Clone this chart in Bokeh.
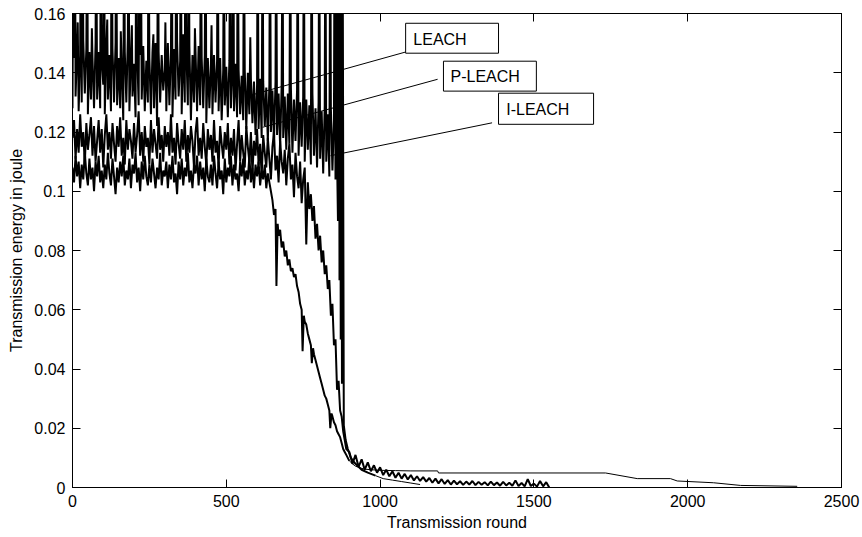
from bokeh.plotting import figure
from bokeh.models import FixedTicker, LinearAxis
from bokeh.core.properties import value
from bokeh.embed import file_html
from bokeh.resources import INLINE

# ---------------- data ----------------
x_ticks = [0, 500, 1000, 1500, 2000, 2500]
x_tick_labels = ["0", "500", "1000", "1500", "2000", "2500"]
y_ticks = [0.0, 0.02, 0.04, 0.06, 0.08, 0.10, 0.12, 0.14, 0.16]
y_tick_labels = ["0", "0.02", "0.04", "0.06", "0.08", "0.1", "0.12", "0.14", "0.16"]

# LEACH: base noise at rounds 0..860 every 5 rounds
leach_noise = [
    0.128, 0.145, 0.132, 0.149, 0.127, 0.146, 0.130, 0.151, 0.133, 0.148,
    0.126, 0.147, 0.131, 0.145, 0.128, 0.150, 0.131, 0.147, 0.128, 0.144,
    0.136, 0.126, 0.149, 0.131, 0.146, 0.127, 0.148, 0.130, 0.150, 0.129,
    0.145, 0.128, 0.142, 0.124, 0.147, 0.130, 0.152, 0.127, 0.146, 0.132,
    0.143, 0.125, 0.148, 0.129, 0.146, 0.131, 0.149, 0.127, 0.144, 0.130,
    0.145, 0.126, 0.147, 0.128, 0.150, 0.122, 0.147, 0.130, 0.146, 0.134,
    0.141, 0.127, 0.150, 0.129, 0.147, 0.125, 0.148, 0.131, 0.151, 0.132,
    0.144, 0.126, 0.153, 0.130, 0.148, 0.129, 0.149, 0.124, 0.146, 0.130,
    0.147, 0.127, 0.149, 0.129, 0.145, 0.128, 0.146, 0.123, 0.145, 0.128,
    0.143, 0.126, 0.146, 0.130, 0.144, 0.127, 0.145, 0.124, 0.141, 0.129,
    0.142, 0.125, 0.144, 0.128, 0.140, 0.127, 0.143, 0.125, 0.141, 0.126,
    0.139, 0.124, 0.141, 0.121, 0.140, 0.126, 0.138, 0.123, 0.137, 0.119,
    0.136, 0.121, 0.138, 0.118, 0.137, 0.122, 0.135, 0.117, 0.136, 0.120,
    0.134, 0.117, 0.137, 0.119, 0.133, 0.115, 0.136, 0.118, 0.132, 0.114,
    0.133, 0.116, 0.135, 0.113, 0.131, 0.117, 0.134, 0.112, 0.130, 0.115,
    0.132, 0.110, 0.131, 0.114, 0.129, 0.109, 0.133, 0.112, 0.128, 0.108,
    0.130, 0.111, 0.127, 0.106, 0.129, 0.110, 0.126, 0.105, 0.128, 0.107,
    0.124, 0.104, 0.112,
]
# LEACH: single-round spikes (many leave the top of the axes)
leach_spike_rounds = [3, 8, 17, 27, 33, 48, 63, 77, 92, 103, 113, 127, 142, 157, 168,
                      182, 193, 207, 218, 222, 247, 263, 278, 302, 323, 337, 352, 367,
                      378, 398, 417, 433, 452, 472, 492, 513, 523, 537, 557, 578, 602,
                      618, 642, 662, 683, 708, 732, 752, 777, 802, 822, 838, 852, 857]
leach_spike_energy = [0.2, 0.2, 0.157, 0.2, 0.2, 0.2, 0.155, 0.2, 0.2, 0.2,
                      0.158, 0.2, 0.2, 0.154, 0.2, 0.2, 0.156, 0.2, 0.2, 0.2,
                      0.2, 0.153, 0.2, 0.157, 0.2, 0.2, 0.2, 0.2, 0.2, 0.155,
                      0.2, 0.2, 0.156, 0.2, 0.2, 0.2, 0.2, 0.2, 0.2, 0.152,
                      0.2, 0.2, 0.2, 0.2, 0.2, 0.2, 0.2, 0.2, 0.2, 0.2,
                      0.2, 0.2, 0.2, 0.2]
leach_tail_rounds = [863, 866, 868, 870, 872, 874, 876, 878, 882, 888, 895, 905,
                     920, 940, 960, 985, 1010, 1040, 1070, 1100, 1130]
leach_tail = [0.09, 0.2, 0.07, 0.2, 0.05, 0.2, 0.035, 0.2, 0.021, 0.016, 0.013, 0.010,
              0.008, 0.006, 0.005, 0.004, 0.003, 0.0025, 0.002, 0.0015, 0.001]

# P-LEACH: rounds 0..775 every 5 rounds
pleach_noise = [
    0.118, 0.124, 0.111, 0.121, 0.113, 0.126, 0.115, 0.120, 0.109, 0.123,
    0.114, 0.119, 0.125, 0.112, 0.122, 0.110, 0.117, 0.124, 0.113, 0.121,
    0.108, 0.119, 0.126, 0.114, 0.120, 0.111, 0.123, 0.116, 0.110, 0.122,
    0.115, 0.125, 0.112, 0.118, 0.109, 0.124, 0.114, 0.121, 0.117, 0.111,
    0.123, 0.113, 0.119, 0.127, 0.112, 0.120, 0.110, 0.122, 0.115, 0.118,
    0.109, 0.124, 0.113, 0.121, 0.116, 0.111, 0.125, 0.114, 0.119, 0.110,
    0.122, 0.115, 0.120, 0.112, 0.126, 0.113, 0.118, 0.109, 0.123, 0.116,
    0.111, 0.121, 0.114, 0.124, 0.110, 0.119, 0.113, 0.122, 0.117, 0.108,
    0.120, 0.125, 0.112, 0.118, 0.111, 0.123, 0.115, 0.109, 0.121, 0.114,
    0.119, 0.110, 0.124, 0.113, 0.117, 0.108, 0.122, 0.116, 0.111, 0.120,
    0.114, 0.123, 0.109, 0.118, 0.112, 0.121, 0.107, 0.116, 0.124, 0.110,
    0.119, 0.113, 0.108, 0.122, 0.115, 0.110, 0.120, 0.106, 0.117, 0.112,
    0.121, 0.109, 0.116, 0.105, 0.119, 0.113, 0.108, 0.118, 0.111, 0.104,
    0.115, 0.120, 0.107, 0.112, 0.103, 0.117, 0.110, 0.106, 0.114, 0.102,
    0.111, 0.116, 0.104, 0.109, 0.098, 0.113, 0.105, 0.101, 0.110, 0.096,
    0.104, 0.108, 0.082, 0.103, 0.094, 0.099,
]
pleach_tail_rounds = [780, 785, 790, 795, 800, 805, 810, 815, 820, 825, 830, 835, 840,
                      845, 850, 855, 860, 865, 870, 875, 880, 885, 890,
                      900, 910, 920, 930, 940, 950, 960, 970, 980, 990, 1000,
                      1010, 1020, 1030, 1040, 1050, 1060, 1070, 1080, 1090, 1100,
                      1110, 1120, 1130, 1140, 1150, 1160, 1170, 1180, 1190, 1200,
                      1210, 1220, 1230, 1240, 1250, 1260, 1270, 1280, 1290, 1300,
                      1310, 1320, 1330, 1340, 1350, 1360, 1370, 1380, 1390, 1400,
                      1410, 1420, 1430, 1440, 1450, 1460, 1470, 1480, 1490, 1500,
                      1510, 1520, 1530, 1540, 1550]
pleach_tail = [0.090, 0.095, 0.084, 0.089, 0.080, 0.085, 0.076, 0.080, 0.072, 0.075,
               0.067, 0.070, 0.058, 0.062, 0.048, 0.050, 0.033, 0.036, 0.026, 0.024,
               0.019, 0.016, 0.013,
               0.012, 0.008, 0.011, 0.007, 0.0095, 0.006, 0.0085, 0.0055, 0.0075, 0.005, 0.0068,
               0.0042, 0.006, 0.0038, 0.0055, 0.0033, 0.005, 0.003, 0.0046, 0.0027, 0.0042,
               0.0024, 0.0038, 0.0022, 0.0035, 0.002, 0.0032, 0.0016, 0.003, 0.0014, 0.0028,
               0.0012, 0.0025, 0.001, 0.0023, 0.0011, 0.0021, 0.0009, 0.002, 0.001, 0.0022,
               0.0008, 0.0019, 0.0009, 0.0018, 0.0007, 0.002, 0.0008, 0.0017, 0.0006, 0.0019,
               0.0007, 0.0016, 0.0006, 0.0024, 0.0005, 0.0015, 0.0004, 0.0028, 0.0005, 0.0013,
               0.0003, 0.0022, 0.0004, 0.0018, 0.0]

# I-LEACH: rounds 0..640 every 5 rounds
ileach_noise = [
    0.108, 0.103, 0.112, 0.105, 0.110, 0.101, 0.109, 0.104, 0.113, 0.106,
    0.102, 0.111, 0.104, 0.108, 0.100, 0.110, 0.105, 0.112, 0.103, 0.107,
    0.101, 0.109, 0.104, 0.113, 0.106, 0.102, 0.111, 0.105, 0.099, 0.108,
    0.103, 0.110, 0.105, 0.112, 0.102, 0.107, 0.104, 0.111, 0.101, 0.109,
    0.106, 0.113, 0.103, 0.108, 0.100, 0.110, 0.104, 0.112, 0.105, 0.102,
    0.109, 0.103, 0.111, 0.106, 0.101, 0.108, 0.104, 0.113, 0.102, 0.107,
    0.105, 0.110, 0.101, 0.109, 0.104, 0.112, 0.103, 0.106, 0.099, 0.110,
    0.104, 0.111, 0.102, 0.108, 0.105, 0.113, 0.103, 0.107, 0.101, 0.109,
    0.106, 0.112, 0.102, 0.110, 0.104, 0.108, 0.100, 0.111, 0.105, 0.103,
    0.109, 0.102, 0.112, 0.106, 0.101, 0.110, 0.104, 0.107, 0.099, 0.111,
    0.103, 0.108, 0.105, 0.112, 0.102, 0.109, 0.104, 0.106, 0.100, 0.110,
    0.105, 0.111, 0.102, 0.107, 0.104, 0.112, 0.103, 0.108, 0.101, 0.109,
    0.105, 0.110, 0.102, 0.107, 0.104, 0.109, 0.101, 0.106, 0.103,
]
ileach_tail_rounds = [645, 650, 655, 660, 663, 667, 670, 675, 680, 685, 690, 695, 700,
                      705, 710, 715, 720, 725, 730, 735, 740, 745, 748, 752, 755, 760,
                      765, 770, 775, 778, 782, 785, 790, 795, 800, 805, 810, 815, 820,
                      825, 830, 835, 838, 842, 845, 850, 855, 860, 865, 870, 875, 880,
                      885, 890, 900, 910, 920, 935, 950, 970, 1000, 1050, 1100, 1187,
                      1190, 1733, 1836, 1944, 1966, 2084, 2172, 2356]
ileach_tail = [0.100, 0.097, 0.092, 0.094, 0.068, 0.089, 0.085, 0.087, 0.081, 0.083,
               0.078, 0.080, 0.075, 0.077, 0.073, 0.074, 0.071, 0.072, 0.068, 0.066,
               0.062, 0.060, 0.046, 0.058, 0.056, 0.055, 0.052, 0.050, 0.048, 0.042,
               0.047, 0.045, 0.043, 0.041, 0.039, 0.037, 0.035, 0.033, 0.031, 0.030,
               0.028, 0.026, 0.020, 0.025, 0.024, 0.022, 0.021, 0.019, 0.018, 0.017,
               0.015, 0.013, 0.012, 0.011, 0.009, 0.008, 0.0072, 0.0066, 0.0062, 0.006,
               0.0058, 0.0057, 0.0056, 0.0056, 0.0049, 0.0049, 0.0030, 0.0030, 0.0022,
               0.0016, 0.0007, 0.0004]

# assemble the series (base noise + spikes sorted by round, then the tail)
_leach_pts = sorted(zip(list(range(0, 865, 5)) + leach_spike_rounds,
                        leach_noise + leach_spike_energy))
leach_rounds = [r for r, _ in _leach_pts] + leach_tail_rounds
leach_energy = [e for _, e in _leach_pts] + leach_tail
pleach_rounds = list(range(0, 780, 5)) + pleach_tail_rounds
pleach_energy = pleach_noise + pleach_tail
ileach_rounds = list(range(0, 645, 5)) + ileach_tail_rounds
ileach_energy = ileach_noise + ileach_tail

# ---------------- figure ----------------
FONT = "Liberation Sans"
p = figure(width=862, height=537, x_range=(0, 2500), y_range=(0, 0.16),
           output_backend="svg", toolbar_location=None,
           min_border_left=72, min_border_right=21, min_border_top=13, min_border_bottom=50)
p.background_fill_color = "white"
p.border_fill_color = "white"
p.outline_line_color = "black"
p.outline_line_width = 1
p.xgrid.visible = False
p.ygrid.visible = False


def draw(rounds, energy, split_round, width):
    """Noisy part (up to split_round) drawn heavier, smooth remainder thin."""
    k = max(i for i, r in enumerate(rounds) if r <= split_round)
    p.line(rounds[:k + 1], energy[:k + 1], line_color="black", line_width=width)
    if k + 1 < len(rounds):
        p.line(rounds[k:], energy[k:], line_color="black", line_width=1)


draw(leach_rounds, leach_energy, 1000, 2.0)
draw(pleach_rounds, pleach_energy, 1600, 2.0)
draw(ileach_rounds, ileach_energy, 900, 2.0)

# annotations (boxes + leader lines)
notes = [
    ("LEACH", 1083, 1385, 0.1466, 0.1567, 1108, 0.1512, (1083, 0.1470), (579, 0.1324)),
    ("P-LEACH", 1206, 1508, 0.1338, 0.1439, 1229, 0.1386, (1187, 0.1378), (618, 0.1216)),
    ("I-LEACH", 1385, 1694, 0.1226, 0.1331, 1410, 0.1276, (1364, 0.1231), (839, 0.1120)),
]
for txt, l, r, b, t, tx, ty, (x0, y0), (x1, y1) in notes:
    p.segment(x0=[x0], y0=[y0], x1=[x1], y1=[y1], line_color="black", line_width=1)
    p.quad(left=[l], right=[r], bottom=[b], top=[t], fill_color="white",
           line_color="black", line_width=1)
    p.text(x=[tx], y=[ty], text=[txt], text_font=value(FONT), text_font_size="16px",
           text_color="black", text_align="left", text_baseline="middle")

# axes
for ax in (p.xaxis[0], p.yaxis[0]):
    ax.major_tick_in = 8
    ax.major_tick_out = 0
    ax.minor_tick_line_color = None
    ax.axis_line_color = "black"
    ax.major_tick_line_color = "black"
    ax.major_label_text_font = FONT
    ax.major_label_text_font_size = "16px"
    ax.major_label_text_color = "black"
    ax.axis_label_text_font = FONT
    ax.axis_label_text_font_size = "16px"
    ax.axis_label_text_font_style = "normal"
    ax.axis_label_text_color = "black"

p.xaxis.ticker = FixedTicker(ticks=x_ticks)
p.xaxis.major_label_overrides = dict(zip(x_ticks, x_tick_labels))
p.yaxis.ticker = FixedTicker(ticks=y_ticks)
p.yaxis.major_label_overrides = dict(zip(y_ticks, y_tick_labels))
p.xaxis.axis_label = "Transmission round"
p.yaxis.axis_label = "Transmission energy in joule"
p.xaxis.major_label_standoff = 7
p.xaxis.axis_label_standoff = 4
p.yaxis.major_label_standoff = 7
p.yaxis.axis_label_standoff = 6

# mirrored tick marks on the top and right edges (no labels, as in the reference)
top = LinearAxis(ticker=FixedTicker(ticks=x_ticks), major_tick_in=8, major_tick_out=0,
                 minor_tick_line_color=None, major_label_text_color=None,
                 major_label_overrides={t: "" for t in x_ticks},
                 axis_line_color="black", major_label_standoff=0)
right = LinearAxis(ticker=FixedTicker(ticks=y_ticks), major_tick_in=8, major_tick_out=0,
                   minor_tick_line_color=None, major_label_text_color=None,
                   major_label_overrides={t: "" for t in y_ticks},
                   axis_line_color="black", major_label_standoff=0)
p.add_layout(top, "above")
p.add_layout(right, "right")

open("out.html", "w").write(file_html(p, INLINE))
